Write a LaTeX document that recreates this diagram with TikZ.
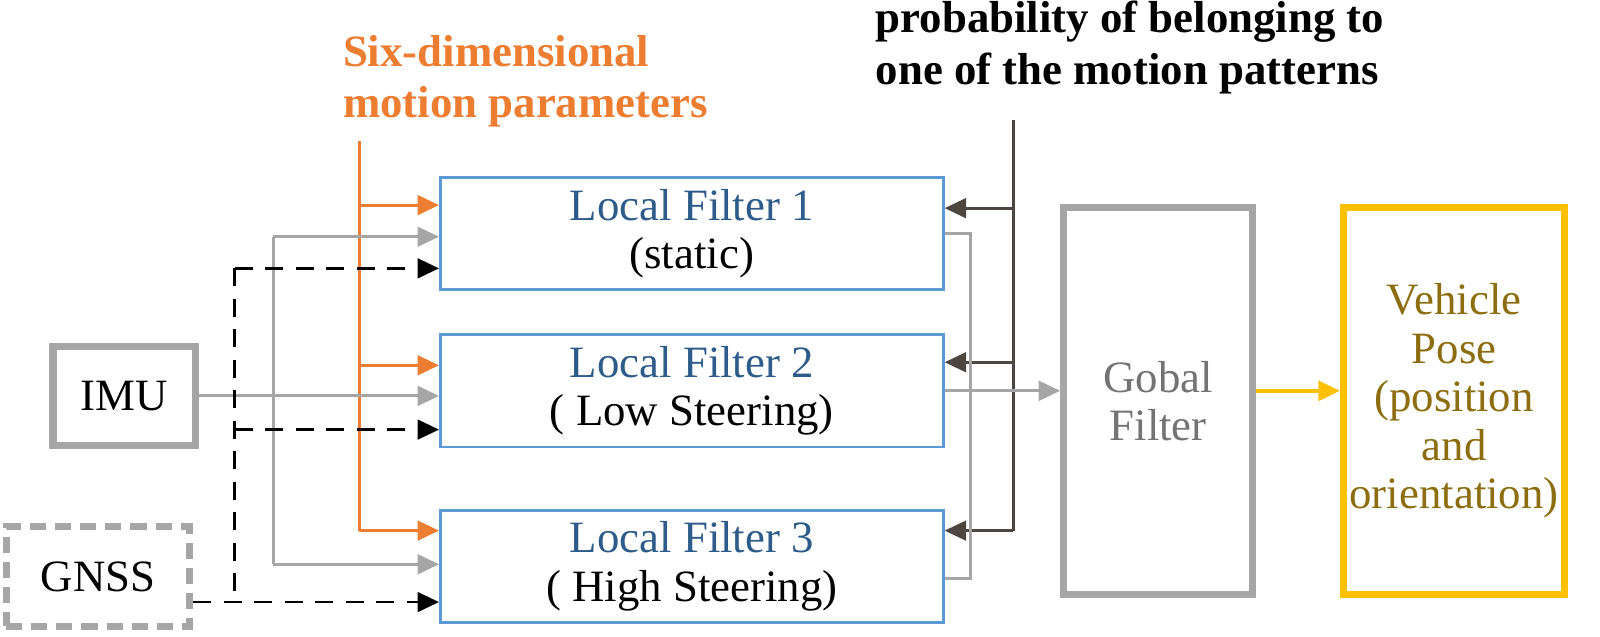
\documentclass[tikz,border=0pt]{standalone}
\usepackage{fontspec}
\setmainfont{Liberation Serif}
\usetikzlibrary{arrows.meta,positioning}
\definecolor{lfblue}{HTML}{5B9BD5}
\definecolor{lftext}{HTML}{2E5C8A}
\definecolor{sixor}{HTML}{ED7D31}
\definecolor{probg}{HTML}{4D4540}
\definecolor{pose}{HTML}{FFC000}
\definecolor{posetext}{HTML}{8C6D10}
\begin{document}
\begin{tikzpicture}[x=0.02cm,y=-0.02cm,
    every node/.style={font=\fontsize{25}{27}\selectfont, align=center},
    filter/.style={draw=lfblue, line width=1.5pt, minimum width=9.86cm, minimum height=2.2cm},
    sensor/.style={draw=black!35, line width=4pt},
    tip/.style={-{Triangle[length=12pt,width=11pt]}},
    gline/.style={draw=black!35, line width=1.6pt},
    dline/.style={line width=1.6pt, dash pattern=on 10pt off 7pt}]
  \useasboundingbox (0,0) rectangle (1568,623.5);
  % sensors
  \node[sensor, minimum width=2.8cm, minimum height=1.95cm] (imu) at (122,388) {IMU};
  \node[sensor, dash pattern=on 9pt off 5pt, minimum width=3.6cm, minimum height=1.95cm] (gnss) at (96,565) {GNSS};
  % local filters
  \node[filter] (lf1) at (678,229) {\textcolor{lftext}{Local Filter 1}\\(static)};
  \node[filter] (lf2) at (678,383) {\textcolor{lftext}{Local Filter 2}\\( Low Steering)};
  \node[filter] (lf3) at (678,555) {\textcolor{lftext}{Local Filter 3}\\( High Steering)};
  \node[sensor, minimum width=3.7cm, minimum height=7.6cm, text=black!55] (gf) at (1135,393) {Gobal\\Filter};
  \node[draw=pose, line width=4pt, minimum width=4.15cm, minimum height=7.6cm, text=posetext] (vp) at (1425,393) {Vehicle\\Pose\\(position\\and\\orientation)};
  % labels
  \node[text=sixor, font=\fontsize{25}{29}\selectfont\bfseries, align=left, anchor=north west] (six) at (330,28) {Six-dimensional\\motion parameters};
  \node[font=\fontsize{25}{29}\selectfont\bfseries, align=left, anchor=south west] (prob) at (852,98) {probability of belonging to\\one of the motion patterns};
  % motion parameters
  \coordinate (s0) at (352,138);
  \coordinate (s3) at (352,520);
  \draw[sixor, line width=1.6pt] (s0) -- (s3);
  \foreach \y/\n in {201/lf1,358/lf2,520/lf3}
    \draw[sixor, line width=1.6pt, tip] (352,\y) -- (\n.west |- 0,\y);
  % probabilities
  \coordinate (p0) at (993,118);
  \draw[probg, line width=1.6pt] (p0) -- (993,520);
  \foreach \y/\n in {204/lf1,355/lf2,520/lf3}
    \draw[probg, line width=1.6pt, tip] (993,\y) -- (\n.east |- 0,\y);
  % imu
  \draw[gline, tip] (imu.east) -- (lf2.west |- imu.east);
  \draw[gline] (268,232) -- (268,553);
  \draw[gline, tip] (268,232) -- (lf1.west |- 0,232);
  \draw[gline, tip] (268,553) -- (lf3.west |- 0,553);
  % gnss
  \draw[dline, tip] (gnss.east |- 0,590) -- (lf3.west |- 0,590);
  \draw[dline] (230,263) -- (230,590);
  \draw[dline, tip] (230,263) -- (lf1.west |- 0,263);
  \draw[dline, tip] (230,421) -- (lf2.west |- 0,421);
  % outputs
  \draw[gline] (lf1.east |- 0,229) -- (951,229) -- (951,567) -- (lf3.east |- 0,567);
  \draw[gline, tip] (lf2.east |- 0,383) -- (gf.west |- 0,383);
  \draw[pose, line width=2pt, tip] (gf.east |- 0,383) -- (vp.west |- 0,383);
\end{tikzpicture}
\end{document}
